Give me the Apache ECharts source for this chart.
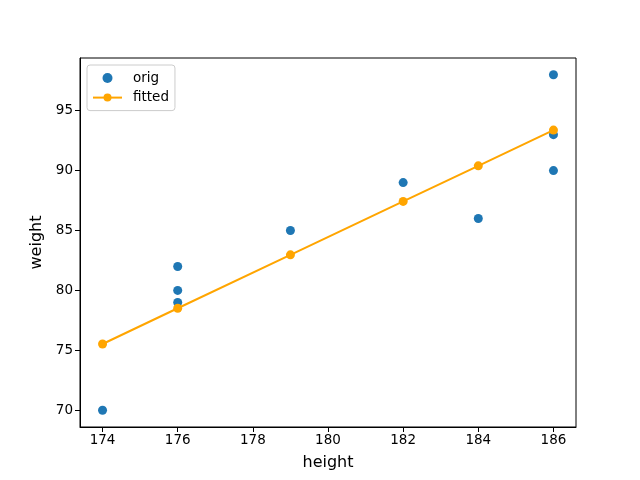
<!DOCTYPE html>
<html>
<head>
<meta charset="utf-8">
<script src="https://cdn.jsdelivr.net/npm/echarts@6/dist/echarts.min.js"></script>
</head>
<body style="margin:0;">
<div id="main" style="width:640px;height:480px;"></div>
<script>
// original samples
var origHeight = [174, 176, 176, 176, 179, 182, 184, 186, 186, 186];
var origWeight = [70, 82, 80, 79, 85, 89, 86, 98, 93, 90];
// fitted line points
var fitHeight = [174, 176, 179, 182, 184, 186];
var fitWeight = [75.53, 78.51, 82.97, 87.43, 90.40, 93.38];
var xTicks = [174, 176, 178, 180, 182, 184, 186];
var yTicks = [70, 75, 80, 85, 90, 95];

var myChart = echarts.init(document.getElementById("main"));
var font = "DejaVu Sans";
var option = {
  animation: false,
  textStyle: { fontFamily: font },
  grid: {
    left: 80,
    right: 64,
    top: 58,
    bottom: 53,
    outerBoundsMode: "none",
    show: true,
    borderColor: "#000",
    borderWidth: 1
  },
  legend: {
    orient: "vertical",
    left: 87,
    top: 65,
    padding: [6, 6, 6, 5],
    itemWidth: 29,
    itemHeight: 10,
    itemGap: 5.6,
    backgroundColor: "rgba(255,255,255,0.8)",
    borderColor: "#ccc",
    borderWidth: 1,
    borderRadius: 3,
    textStyle: { fontSize: 13.5, color: "#000", fontFamily: font, padding: [0, 0, 0, 6] },
    data: ["orig", "fitted"]
  },
  xAxis: {
    type: "value",
    min: 173.4,
    max: 186.6,
    name: "height",
    nameLocation: "middle",
    nameGap: 28,
    nameTextStyle: { fontSize: 16, color: "#000", fontFamily: font },
    splitLine: { show: false },
    axisLine: { lineStyle: { color: "#000" } },
    axisTick: { show: true, length: 5, customValues: xTicks, lineStyle: { color: "#000" } },
    axisLabel: { customValues: xTicks, fontSize: 13.5, color: "#000", margin: 6 }
  },
  yAxis: {
    type: "value",
    min: 68.6,
    max: 99.4,
    name: "weight",
    nameLocation: "middle",
    nameGap: 32,
    nameTextStyle: { fontSize: 16, color: "#000", fontFamily: font },
    splitLine: { show: false },
    axisLine: { show: true, lineStyle: { color: "#000" } },
    axisTick: { show: true, length: 5, customValues: yTicks, lineStyle: { color: "#000" } },
    axisLabel: { customValues: yTicks, fontSize: 13.5, color: "#000", margin: 7 }
  },
  series: [
    {
      name: "orig",
      type: "scatter",
      symbolSize: 9,
      itemStyle: { color: "#1f77b4", opacity: 1 },
      data: origHeight.map(function (h, i) { return [h, origWeight[i]]; })
    },
    {
      name: "fitted",
      type: "line",
      symbol: "circle",
      symbolSize: 9,
      showSymbol: true,
      itemStyle: { color: "orange" },
      lineStyle: { color: "orange", width: 2 },
      data: fitHeight.map(function (h, i) { return [h, fitWeight[i]]; })
    }
  ]
};
myChart.setOption(option);
</script>
</body>
</html>
